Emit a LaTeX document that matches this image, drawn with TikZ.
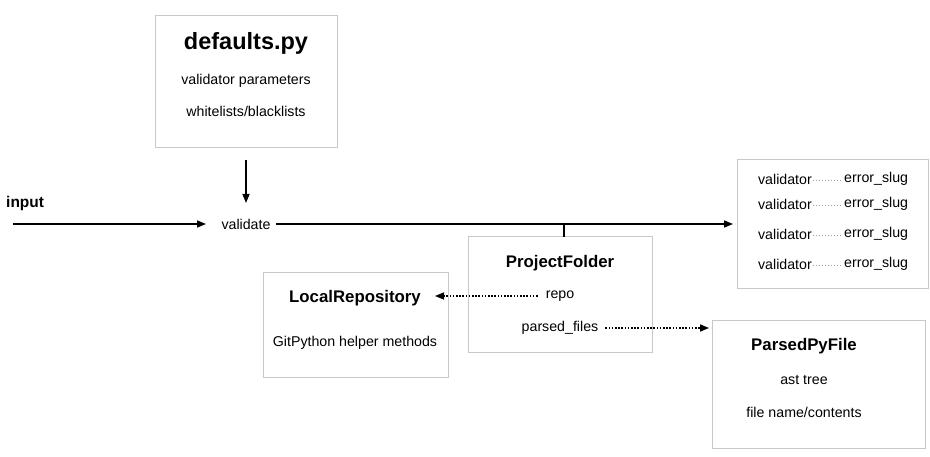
\documentclass[tikz,border=0pt]{standalone}
\usepackage{fontspec}
\setmainfont{Liberation Sans}
\usetikzlibrary{arrows.meta,calc}
\definecolor{boxgray}{HTML}{C8C8C8}
\definecolor{dotgray}{HTML}{A0A0A0}
\tikzset{
  box/.style={draw=boxgray, line width=1pt, fill=white},
  txt/.style={font=\fontsize{14.2}{16}\selectfont, inner sep=0pt, anchor=center},
  ttl/.style={font=\fontsize{16.8}{18}\bfseries\selectfont, inner sep=0pt, anchor=center},
  bigttl/.style={font=\fontsize{23.5}{26}\bfseries\selectfont, inner sep=0pt, anchor=center},
  inttl/.style={font=\fontsize{15.5}{17}\bfseries\selectfont, inner sep=0pt},
  mainline/.style={line width=1.5pt},
  arr/.style={-{Triangle[length=9pt,width=7pt]}},
  dotarr/.style={line width=1.6pt, dash pattern=on 1.6pt off 1.6pt, -{Triangle[length=9pt,width=7pt]}},
  slugdot/.style={dotgray, line width=1pt, dash pattern=on 1pt off 2pt}
}
\begin{document}
\begin{tikzpicture}[x=1pt,y=-1pt]
\useasboundingbox (0,0) rectangle (930,457);
% boxes
\draw[box] (155,16) rectangle (337,148);
\draw[box] (737,160) rectangle (928,289);
\draw[box] (468,237) rectangle (652,353);
\draw[box] (263,273) rectangle (448,377);
\draw[box] (712,321) rectangle (925,448);
% defaults
\node[bigttl] (defaults) at (246,43) {defaults.py};
\node[txt] (vparams) at (246,81) {validator parameters};
\node[txt] (wl) at (246,111) {whitelists/blacklists};
\coordinate (defbot) at (246,160);
% input
\node[inttl, anchor=west] (input) at (6,203) {input};
\coordinate (instart) at (13,224);
\node[txt] (validate) at (246,224) {validate};
\coordinate (valtop) at (246,203);
\coordinate (valin) at (206,224);
\coordinate (valend) at (276,224);
\coordinate (outend) at (733,224);
\coordinate (tickbot) at (564,237);
\coordinate (tickTop) at (564,224);
\draw[mainline, arr] (instart) -- (valin);
\draw[mainline, arr] (defbot) -- (valtop);
\draw[mainline, arr] (valend) -- (outend);
\draw[mainline] (tickTop) -- (tickbot);
% right box
\foreach \y [count=\i] in {179,204,234,264}{
  \node[txt, anchor=east] (v\i) at (812,\y) {validator};
  \node[txt, anchor=west] (e\i) at (844,\y) {error\_slug};
  \draw[slugdot] ($(v\i.east)+(1,2)$) -- ($(e\i.west)+(-1,2)$);
}
% ProjectFolder
\node[ttl] (pf) at (560,263) {ProjectFolder};
\node[txt] (repo) at (560,296) {repo};
\node[txt] (parsed) at (560,328) {parsed\_files};
% LocalRepository
\node[ttl] (lr) at (355,298) {LocalRepository};
\node[txt] (git) at (355,343) {GitPython helper methods};
% ParsedPyFile
\node[ttl] (ppf) at (804,346) {ParsedPyFile};
\node[txt] (ast) at (804,380) {ast tree};
\node[txt] (fn) at (804,412) {file name/contents};
\coordinate (repoend) at (435,296);
\coordinate (parsedend) at (709,328);
\draw[dotarr] ($(repo.west)+(-8,0)$) -- (repoend);
\draw[dotarr] ($(parsed.east)+(7,0)$) -- (parsedend);
\end{tikzpicture}
\end{document}
